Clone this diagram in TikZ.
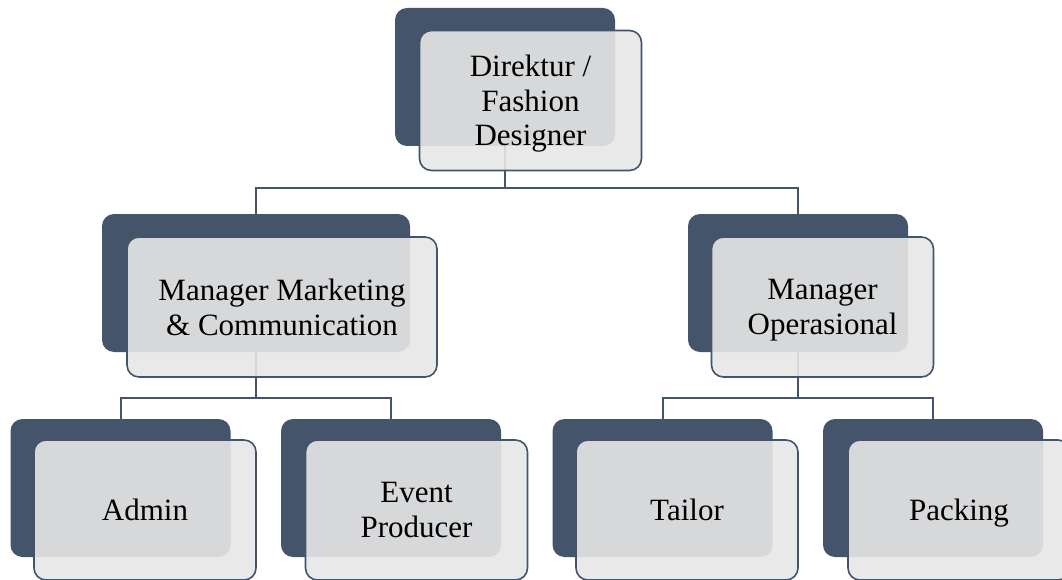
\documentclass[tikz,border=0pt]{standalone}
\usepackage{fontspec}
\setmainfont{Liberation Serif}
\definecolor{slate}{HTML}{44546A}
\definecolor{paper}{HTML}{E7E7E7}
\tikzset{
  darkbox/.style={rectangle, rounded corners=12pt, fill=slate, minimum width=#1,
    minimum height=138pt, inner sep=0pt},
  darkbox/.default=220pt,
  lightbox/.style={rectangle, rounded corners=12pt, draw=slate, line width=1.6pt,
    fill=paper, fill opacity=0.9, text opacity=1, minimum width=#1,
    minimum height=140pt, inner sep=0pt, align=center, text depth=0pt,
    font=\fontsize{31pt}{34.5pt}\selectfont},
  lightbox/.default=222pt,
  link/.style={draw=slate, line width=2pt}
}
\begin{document}
\begin{tikzpicture}[x=1pt,y=-1pt]
\useasboundingbox (0,0) rectangle (1062,580);
\fill[white] (0,0) rectangle (1062,580);

% back plates
\node[darkbox] (dTop) at (505,77) {};
\node[darkbox=308pt] (dMkt) at (256,283) {};
\node[darkbox] (dOps) at (798,283) {};
\node[darkbox] (dAdm) at (120.5,488) {};
\node[darkbox] (dEvt) at (391,488) {};
\node[darkbox] (dTlr) at (662.5,488) {};
\node[darkbox] (dPck) at (933,488) {};

% connectors
\coordinate (busA) at (505,188);
\coordinate (busB) at (256,398);
\coordinate (busC) at (798,398);
\draw[link] (dTop.south) -- (busA) -| (dMkt.north);
\draw[link] (busA) -| (dOps.north);
\draw[link] (dMkt.south) -- (busB) -| (dAdm.north);
\draw[link] (busB) -| (dEvt.north);
\draw[link] (dOps.south) -- (busC) -| (dTlr.north);
\draw[link] (busC) -| (dPck.north);

% front cards with labels
\node[lightbox] (top) at (530.5,100.5) {Direktur /\\Fashion\\Designer};
\node[lightbox=310pt] (mkt) at (282,307) {Manager Marketing\\\& Communication};
\node[lightbox] (ops) at (822.5,307) {Manager\\Operasional};
\node[lightbox] (adm) at (145,510) {Admin};
\node[lightbox] (evt) at (416.5,510) {Event\\Producer};
\node[lightbox] (tlr) at (687,510) {Tailor};
\node[lightbox] (pck) at (959,510) {Packing};
\end{tikzpicture}
\end{document}
